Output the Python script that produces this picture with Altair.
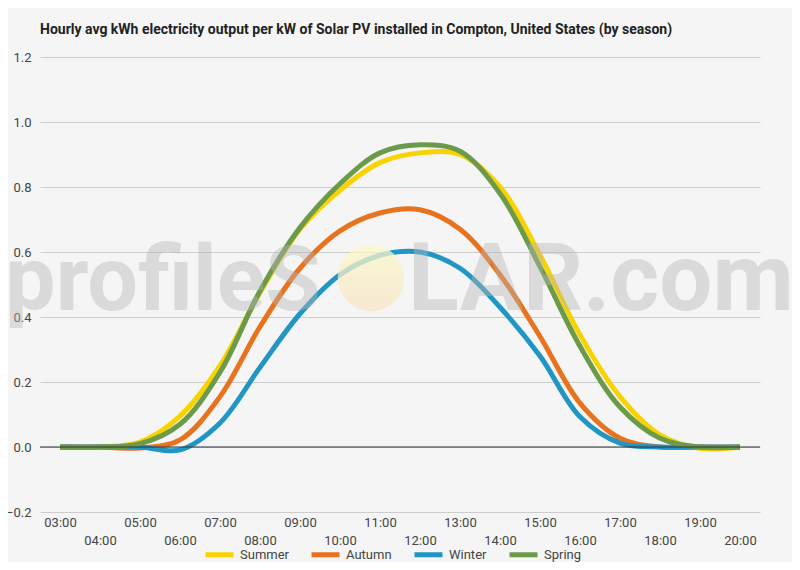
import altair as alt
import pandas as pd

hours = ["03:00", "04:00", "05:00", "06:00", "07:00", "08:00", "09:00", "10:00", "11:00",
         "12:00", "13:00", "14:00", "15:00", "16:00", "17:00", "18:00", "19:00", "20:00"]

summer = [0, 0, 0.015, 0.095, 0.25, 0.475, 0.67, 0.79, 0.875, 0.905, 0.90, 0.80, 0.59, 0.345, 0.155, 0.037, -0.004, 0]
autumn = [0, 0, -0.003, 0.022, 0.155, 0.37, 0.55, 0.665, 0.72, 0.73, 0.67, 0.53, 0.34, 0.135, 0.027, 0, 0, 0]
winter = [0, 0, 0, -0.009, 0.074, 0.245, 0.41, 0.53, 0.59, 0.60, 0.55, 0.43, 0.28, 0.093, 0.012, 0, 0, 0]
spring = [0, 0, 0.01, 0.07, 0.23, 0.48, 0.675, 0.81, 0.905, 0.93, 0.91, 0.78, 0.555, 0.31, 0.123, 0.027, 0, 0]

seasons = ["Summer", "Autumn", "Winter", "Spring"]
season_colors = ["#f9d300", "#e8731e", "#2196c4", "#6b9a4b"]
y_ticks = [-0.2, -0.1, 0.0, 0.1, 0.2, 0.3, 0.4, 0.5, 0.6, 0.7, 0.8, 0.9, 1.0, 1.1, 1.2]

rows = []
for name, vals in zip(seasons, [summer, autumn, winter, spring]):
    for h, v in zip(hours, vals):
        rows.append({"hour": h, "kwh": v, "season": name})
df = pd.DataFrame(rows)

title = "Hourly avg kWh electricity output per kW of Solar PV installed in Compton, United States (by season)"

major = "round(datum.value * 10) % 2 == 0"

x_axis = alt.Axis(
    title=None, labelAngle=0, ticks=False, domain=False, grid=False,
    labelFontSize=13, labelColor="#444", labelPadding=4, labelLineHeight=18,
    labelBaseline="top", labelOverlap=False,
    labelExpr="toNumber(slice(datum.value, 0, 2)) % 2 == 1 ? datum.value : ['', datum.value]",
)
y_axis = alt.Axis(
    title=None, values=y_ticks, domain=False, ticks=False,
    labelFontSize=13, labelColor="#444", labelPadding=9,
    labelExpr=major + " ? format(datum.value, '.1f') : ''",
    gridColor=alt.condition(major, alt.value("#cdcdcd"), alt.value("#e4e4e4")),
    gridWidth=1,
)

lines = alt.Chart(df).mark_line(interpolate="catmull-rom", strokeWidth=5).encode(
    x=alt.X("hour:O", sort=hours, scale=alt.Scale(type="point", padding=0.5), axis=x_axis),
    y=alt.Y("kwh:Q", scale=alt.Scale(domain=[-0.2, 1.2], nice=False, zero=False), axis=y_axis),
    color=alt.Color(
        "season:N",
        scale=alt.Scale(domain=seasons, range=season_colors),
        legend=alt.Legend(
            title=None, orient="none", direction="horizontal", legendX=163, legendY=481,
            symbolType="stroke", symbolStrokeWidth=5, symbolSize=784,
            labelFontSize=13, labelColor="#444", labelOffset=4, columnPadding=12,
        ),
    ),
)

zero_line = alt.Chart(pd.DataFrame({"y": [0]})).mark_rule(color="#333", strokeWidth=1).encode(
    y="y:Q"
)

one = pd.DataFrame({"k": [0]})
mark_a = alt.Chart(one).mark_text(
    text="profileS", align="left", baseline="alphabetic", fontSize=90,
    font="Roboto", fontWeight="bold", color="#b5b5b5", opacity=0.42,
).encode(x=alt.value(-35), y=alt.value(253))
mark_b = alt.Chart(one).mark_text(
    text="LAR.com", align="left", baseline="alphabetic", fontSize=94,
    font="Roboto", fontWeight="bold", color="#b5b5b5", opacity=0.42,
).encode(x=alt.value(368), y=alt.value(253))
sun = alt.Chart(one).mark_point(
    shape="circle", filled=True, size=4418, opacity=0.75,
    color=alt.Gradient(
        gradient="linear", x1=0, y1=0, x2=0, y2=1,
        stops=[alt.GradientStop(color="#fbf8c8", offset=0),
               alt.GradientStop(color="#f8e4c6", offset=1)],
    ),
).encode(x=alt.value(331), y=alt.value(221))

chart = alt.layer(lines, zero_line, sun, mark_a, mark_b).properties(
    width=720, height=455,
    title=alt.TitleParams(title, anchor="start", frame="group", font="Roboto", fontSize=14,
                          fontWeight="bold", color="#222", offset=14),
    padding={"left": 32, "top": 49, "right": 32, "bottom": 50},
    autosize=alt.AutoSizeParams(type="none"),
).configure(background="#f5f5f5", font="Roboto").configure_view(stroke=None)

chart.save("out.html", embed_options={"renderer": "svg", "actions": False})
